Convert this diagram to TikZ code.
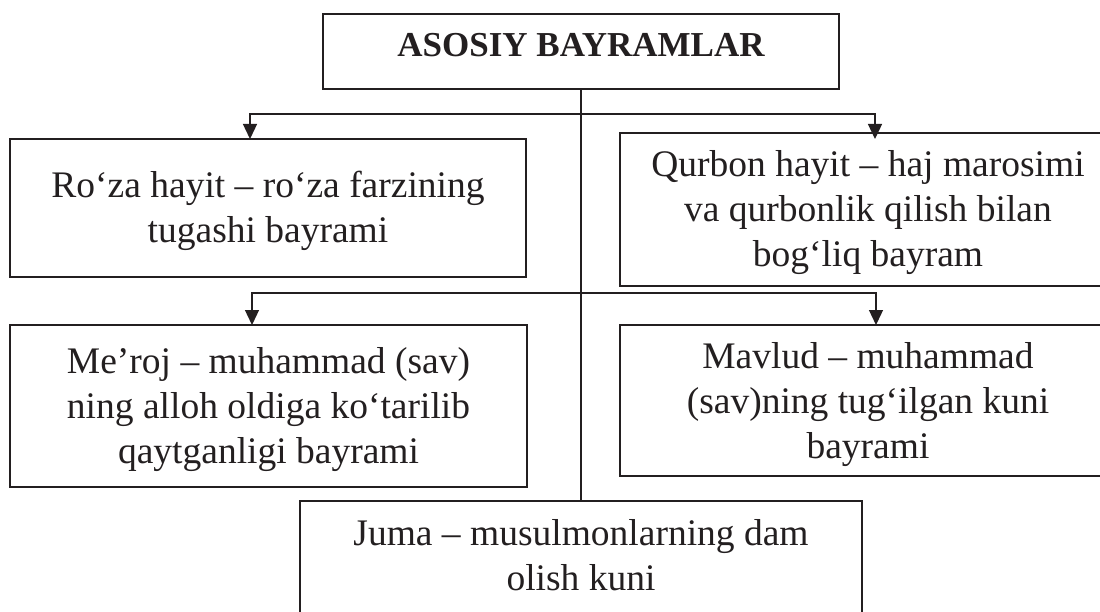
\documentclass[tikz,border=0pt]{standalone}
\usepackage{fontspec}
\setmainfont{Liberation Serif}
\usetikzlibrary{arrows.meta}
\definecolor{ink}{HTML}{231F20}
\begin{document}
\begin{tikzpicture}[x=1pt,y=-1pt,
  box/.style={draw=ink, line width=1.3pt, inner sep=0pt, align=center, text=ink,
    font=\fontsize{37.5}{45}\selectfont},
  twol/.style={text height=70pt, text depth=0pt},
  threel/.style={text height=115pt, text depth=0pt},
  conn/.style={draw=ink, line width=1.3pt},
  arr/.style={conn, -{Triangle[width=14pt,length=15pt]}}]
\useasboundingbox (0,0) rectangle (1100,612);
\fill[white] (0,0) rectangle (1100,612);
\clip (0,0) rectangle (1100,612);
\node[box, minimum width=516pt, minimum height=75pt, text height=24pt, text depth=13pt,
  font=\fontsize{35}{42}\selectfont\bfseries] (top) at (581,51.5) {ASOSIY BAYRAMLAR};
\node[box, twol, minimum width=516pt, minimum height=138pt] (lb1) at (268,208)
  {Ro‘za hayit – ro‘za farzining\\tugashi bayrami};
\node[box, threel, minimum width=496pt, minimum height=153pt] (rb1) at (868,209.5)
  {Qurbon hayit – haj marosimi\\va qurbonlik qilish bilan\\bog‘liq bayram};
\node[box, threel, minimum width=517pt, minimum height=162pt] (lb2) at (268.5,406)
  {Me’roj – muhammad (sav)\\ning alloh oldiga ko‘tarilib\\qaytganligi bayrami};
\node[box, threel, minimum width=496pt, minimum height=151pt] (rb2) at (868,400.5)
  {Mavlud – muhammad\\(sav)ning tug‘ilgan kuni\\bayrami};
\node[box, text height=70pt, text depth=31pt, minimum width=562pt, minimum height=139pt] (bot) at (581,570.5)
  {Juma – musulmonlarning dam\\olish kuni};
\coordinate (j1) at (581,114);
\coordinate (j2) at (581,293);
\coordinate (t1) at (250,139);
\coordinate (t2) at (875,139);
\coordinate (t3) at (252,325);
\coordinate (t4) at (876,325);
\draw[conn] (top.south) -- (bot.north);
\draw[arr] (j1) -| (t1);
\draw[arr] (j1) -| (t2);
\draw[arr] (j2) -| (t3);
\draw[arr] (j2) -| (t4);
\end{tikzpicture}
\end{document}
